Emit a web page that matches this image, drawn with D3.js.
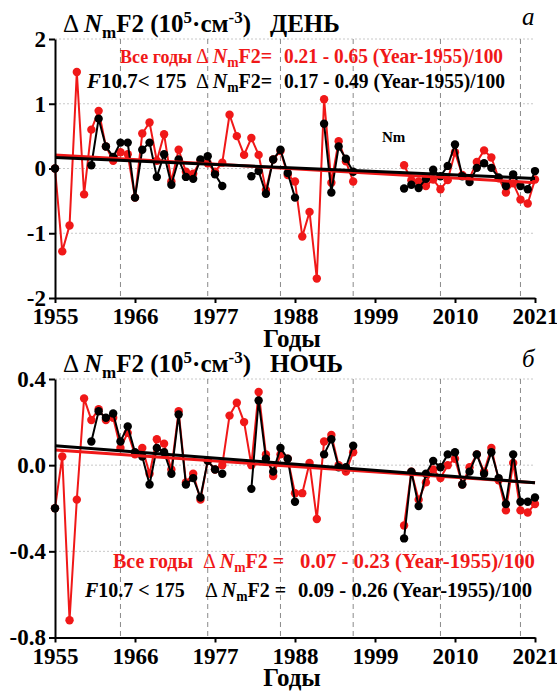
<!DOCTYPE html>
<html>
<head>
<meta charset="utf-8">
<script src="https://cdn.jsdelivr.net/npm/d3@7/dist/d3.min.js"></script>
<style>
  body { margin: 0; background: #fff; }
  svg text { font-family: "Times New Roman", "Liberation Serif", Tinos, "DejaVu Serif", serif; }
</style>
</head>
<body>
<div id="chart"></div>
<script>
// years 1955..2021, null = no data for that year
const years = d3.range(1955, 2022);

// day, all years (red)
const dayAll = [
  0.00, -1.28, -0.88, 1.49, -0.40, 0.60, 0.89, 0.34, 0.12, 0.25,
  0.22, -0.45, 0.54, 0.71, 0.12, 0.53, -0.20, 0.29, -0.05, -0.08,
  0.12, 0.08, -0.05, 0.09, 0.83, 0.50, 0.21, 0.47, 0.21, -0.33,
  0.14, 0.27, -0.10, -0.20, -1.05, -0.67, -1.70, 1.07, -0.22, 0.42,
  0.11, -0.20, null, null, null, null, null, null, 0.05, -0.18,
  -0.20, -0.27, -0.17, -0.32, -0.18, 0.25, -0.10, -0.15, 0.10, 0.28,
  0.17, -0.15, -0.37, -0.23, -0.48, -0.54, -0.17
];
// day, F10.7 < 175 (black)
const dayLow = [
  0.00, null, null, null, null, 0.05, 0.77, 0.34, 0.18, 0.40,
  0.40, -0.45, 0.29, 0.40, -0.13, 0.22, -0.25, 0.14, -0.13, -0.16,
  0.14, 0.19, -0.09, -0.27, null, null, null, -0.12, -0.04, -0.39,
  0.14, 0.29, -0.07, -0.45, null, null, null, 0.69, -0.37, 0.34,
  0.15, -0.05, null, null, null, null, null, null, -0.31, -0.25,
  -0.30, -0.16, -0.02, -0.12, 0.04, 0.37, -0.12, -0.21, 0.01, 0.08,
  0.01, -0.14, -0.27, -0.09, -0.27, -0.32, -0.04
];
// night, all years (red)
const nightAll = [
  -0.20, 0.04, -0.72, -0.16, 0.31, 0.21, 0.26, 0.21, 0.22, 0.08,
  0.15, 0.05, 0.08, -0.04, 0.12, 0.10, -0.02, 0.25, -0.08, -0.04,
  -0.16, 0.02, -0.02, 0.00, 0.23, 0.29, 0.20, 0.00, 0.34, 0.05,
  -0.05, 0.05, 0.03, -0.13, -0.13, 0.01, -0.25, 0.11, 0.14, 0.00,
  -0.03, 0.06, null, null, null, null, null, null, -0.28, -0.03,
  -0.16, -0.08, -0.02, -0.06, 0.00, 0.03, -0.09, -0.01, 0.05, -0.03,
  0.08, -0.07, -0.21, 0.01, -0.21, -0.22, -0.18
];
// night, F10.7 < 175 (black)
const nightLow = [
  -0.20, null, null, null, null, 0.11, 0.25, 0.22, 0.24, 0.11,
  0.18, 0.06, 0.04, -0.09, 0.08, 0.06, -0.04, 0.235, -0.09, -0.06,
  -0.15, 0.02, -0.02, -0.04, null, null, null, -0.11, 0.30, 0.03,
  -0.03, 0.08, 0.03, -0.17, null, null, null, 0.05, 0.12, -0.01,
  -0.01, 0.09, null, null, null, null, null, null, -0.34, -0.03,
  -0.19, -0.04, 0.02, -0.01, 0.05, 0.06, -0.09, -0.03, 0.05, -0.04,
  0.06, -0.06, -0.18, 0.05, -0.17, -0.17, -0.15
];

// trend coefficients: a + b*(Year-1955)/100
const dayFitAll = [0.21, -0.65];
const dayFitLow = [0.17, -0.49];
const nightFitAll = [0.07, -0.23];
const nightFitLow = [0.09, -0.26];

const xTicks = [1955, 1966, 1977, 1988, 1999, 2010, 2021];
const minYears = [1964, 1976, 1986, 1996, 2008, 2019]; // dashed lines
const dayTicks = [-2, -1, 0, 1, 2];
const nightTicks = [-0.8, -0.4, 0.0, 0.4];

const RED = "#f01818";
const FONT = '"Times New Roman", "Liberation Serif", Tinos, "DejaVu Serif", serif';

const svg = d3.select("#chart").append("svg")
  .attr("width", 557)
  .attr("height", 691)
  .attr("font-family", FONT);

const x = d3.scaleLinear().domain([1955, 2021]).range([55, 535]);

function drawPanel(y, ticks, fmt, all, low, fitAll, fitLow) {
  const g = svg.append("g");
  const top = y.range()[1], bottom = y.range()[0];

  // horizontal dotted grid
  g.selectAll(".hgrid").data(ticks.slice(1)).join("line")
    .attr("x1", x(1955)).attr("x2", x(2021))
    .attr("y1", d => y(d)).attr("y2", d => y(d))
    .attr("stroke", "#c8c8c8").attr("stroke-width", 1)
    .attr("stroke-dasharray", "2,2");

  // dashed verticals
  g.selectAll(".vgrid").data(minYears).join("line")
    .attr("x1", d => x(d)).attr("x2", d => x(d))
    .attr("y1", top).attr("y2", bottom)
    .attr("stroke", "#8a8a8a").attr("stroke-width", 1)
    .attr("stroke-dasharray", "5,4");

  const line = d3.line()
    .defined(d => d.v != null)
    .x(d => x(d.year))
    .y(d => y(d.v));

  const series = [
    { vals: all, color: RED },
    { vals: low, color: "#000" }
  ];
  series.forEach(s => {
    const data = years.map((yr, i) => ({ year: yr, v: s.vals[i] }));
    g.append("path").datum(data)
      .attr("d", line)
      .attr("fill", "none")
      .attr("stroke", s.color)
      .attr("stroke-width", 2);
    g.selectAll(null).data(data.filter(d => d.v != null)).join("circle")
      .attr("cx", d => x(d.year))
      .attr("cy", d => y(d.v))
      .attr("r", 4.2)
      .attr("fill", s.color);
  });

  // trend lines
  [{ c: fitAll, color: RED }, { c: fitLow, color: "#000" }].forEach(f => {
    const ends = [1955, 2021];
    g.append("line")
      .attr("x1", x(ends[0])).attr("x2", x(ends[1]))
      .attr("y1", y(f.c[0] + f.c[1] * (ends[0] - 1955) / 100))
      .attr("y2", y(f.c[0] + f.c[1] * (ends[1] - 1955) / 100))
      .attr("stroke", f.color)
      .attr("stroke-width", 3);
  });

  // axes
  const ax = g.append("g")
    .attr("transform", "translate(" + x(1955) + ",0)")
    .call(d3.axisLeft(y).tickValues(ticks).tickFormat(fmt)
      .tickSize(6).tickSizeOuter(0).tickPadding(3));
  const bx = g.append("g")
    .attr("transform", "translate(0," + bottom + ")")
    .call(d3.axisBottom(x).tickValues(xTicks).tickFormat(d3.format("d"))
      .tickSize(5).tickSizeOuter(0).tickPadding(5));
  [ax, bx].forEach(a => {
    a.attr("font-family", FONT);
    a.select(".domain").attr("stroke-width", 2);
    a.selectAll(".tick line").attr("stroke-width", 2);
    a.selectAll("text")
      .attr("font-weight", "bold")
      .attr("font-size", 23)
      .attr("fill", "#000");
  });
  return g;
}

drawPanel(d3.scaleLinear().domain([-2, 2]).range([298, 39]),
  dayTicks, d => String(d), dayAll, dayLow, dayFitAll, dayFitLow);
drawPanel(d3.scaleLinear().domain([-0.8, 0.4]).range([637.5, 379]),
  nightTicks, d => d.toFixed(1), nightAll, nightLow, nightFitAll, nightFitLow);

// rich text helper: parts = [text, {it, sub, sup}]
function rich(xp, yp, size, color, parts) {
  const t = svg.append("text")
    .attr("x", xp).attr("y", yp)
    .attr("font-size", size)
    .attr("font-weight", "bold")
    .attr("fill", color)
    .attr("xml:space", "preserve");
  let shift = 0;
  parts.forEach(p => {
    const o = typeof p === "string" ? { s: p } : p;
    const ts = t.append("tspan").text(o.s);
    let target = 0;
    if (o.sub) { ts.attr("font-size", size * 0.68); target = size * 0.22; }
    if (o.sup) { ts.attr("font-size", size * 0.68); target = -size * 0.38; }
    if (o.it) ts.attr("font-style", "italic");
    if (o.light) ts.attr("font-weight", "normal");
    if (target !== shift) { ts.attr("dy", target - shift); shift = target; }
  });
  return t;
}

function title(yp, word) {
  rich(63, yp, 25, "#000", [
    { s: "Δ ", light: true }, { s: "N", it: true }, { s: "m", sub: true }, "F2 (10",
    { s: "5", sup: true }, "·см", { s: "-3", sup: true }, ")"
  ]);
  rich(270, yp, 25, "#000", [word]);
}
title(32, "ДЕНЬ");
title(372, "НОЧЬ");

svg.append("text").attr("x", 522).attr("y", 25)
  .attr("font-size", 25).attr("font-style", "italic").text("а");
svg.append("text").attr("x", 522).attr("y", 367)
  .attr("font-size", 25).attr("font-style", "italic").text("б");

// equations: lead text, "ΔNmF2 =" and the coefficients placed separately
// pos = [lead x, lead size, delta x, delta size, coef x, coef width]
function eq(pos, yp, color, leadIt, lead, gap, coef) {
  rich(pos[0], yp, pos[1], color, leadIt ? [{ s: "F", it: true }, lead] : [lead]);
  rich(pos[2], yp, pos[3], color, [
    { s: "Δ ", light: true }, { s: "N", it: true }, { s: "m", sub: true }, "F2" + gap + "="
  ]);
  svg.append("text")
    .attr("x", pos[4]).attr("y", yp)
    .attr("font-size", 21).attr("font-weight", "bold")
    .attr("fill", color)
    .attr("textLength", pos[5])
    .attr("lengthAdjust", "spacingAndGlyphs")
    .text(coef[0].toFixed(2) + " - " + Math.abs(coef[1]).toFixed(2) + " (Year-1955)/100");
}
eq([120, 18, 196, 20, 284, 219], 63, RED, false, "Все годы", "", dayFitAll);
eq([87, 21, 196, 20, 284, 221], 88, "#000", true, "10.7< 175", "", dayFitLow);
eq([113, 20, 203, 20, 300, 235], 568, RED, false, "Все годы", " ", nightFitAll);
eq([85, 20, 205, 20, 298, 234], 597, "#000", true, "10.7 < 175", " ", nightFitLow);

svg.append("text").attr("x", 382).attr("y", 142)
  .attr("font-size", 15).attr("font-weight", "bold").text("Nm");

// axis titles
[347, 686].forEach(yp => {
  svg.append("text").attr("x", 292).attr("y", yp)
    .attr("text-anchor", "middle")
    .attr("font-size", 25).attr("font-weight", "bold").text("Годы");
});
</script>
</body>
</html>
